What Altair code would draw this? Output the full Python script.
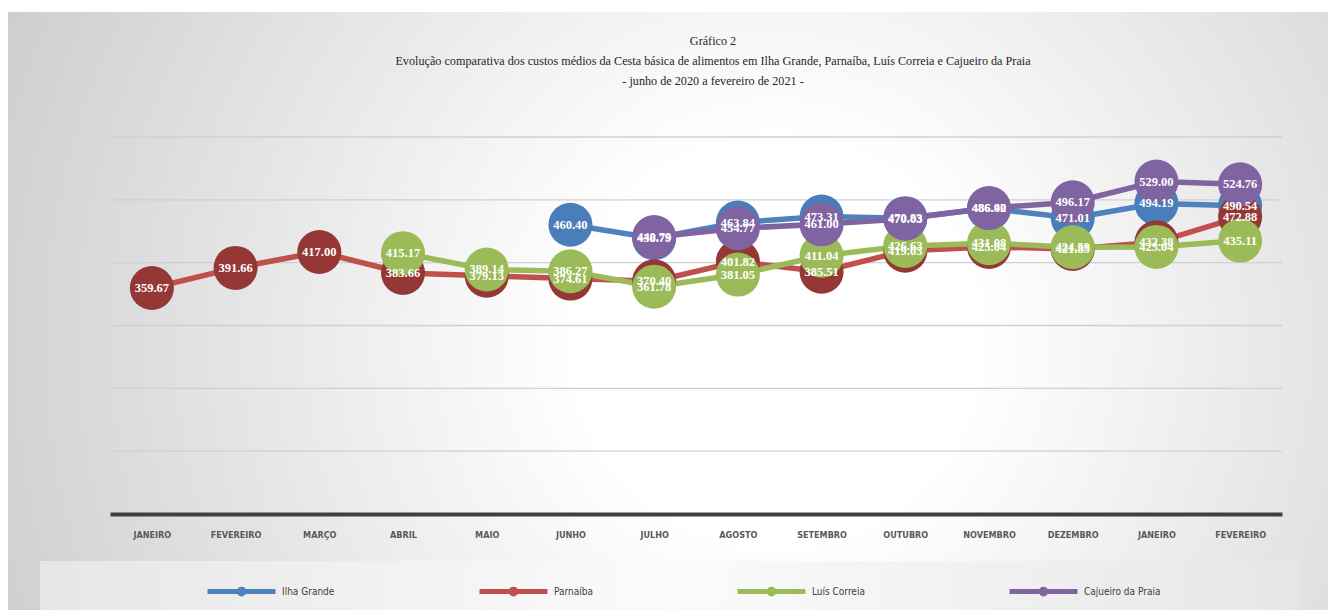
import altair as alt
import pandas as pd

months = ["JANEIRO", "FEVEREIRO", "MARÇO", "ABRIL", "MAIO", "JUNHO", "JULHO",
          "AGOSTO", "SETEMBRO", "OUTUBRO", "NOVEMBRO", "DEZEMBRO", "JANEIRO", "FEVEREIRO"]
years = [2020] * 12 + [2021] * 2

series_names = ["Ilha Grande", "Parnaíba", "Luís Correia", "Cajueiro da Praia"]
ilha_grande = [None, None, None, None, None, 460.40, 438.79, 463.84, 473.31, 470.83, 486.40, 471.01, 494.19, 490.54]
parnaiba = [359.67, 391.66, 417.00, 383.66, 379.13, 374.61, 370.40, 401.82, 385.51, 419.03, 425.04, 421.85, 432.38, 472.88]
luis_correia = [None, None, None, 415.17, 389.14, 386.27, 361.78, 381.05, 411.04, 426.63, 431.08, 424.59, 425.04, 435.11]
cajueiro = [None, None, None, None, None, None, 440.79, 454.77, 461.00, 470.03, 486.92, 496.17, 529.00, 524.76]

grid_values = [0, 100, 200, 300, 400, 500, 600]

line_colors = ["#4F81BD", "#C0504D", "#9BBB59", "#8064A2"]
marker_colors = ["#4A7EBB", "#953735", "#9BBB59", "#8064A2"]

keys = [f"{m} {y}" for m, y in zip(months, years)]
rows = []
for name, vals in zip(series_names, [ilha_grande, parnaiba, luis_correia, cajueiro]):
    for k, v in zip(keys, vals):
        if v is not None:
            rows.append({"mes": k, "serie": name, "valor": v})
df = pd.DataFrame(rows)

W, H = 1172, 377
PAD_L, PAD_T = 102, 129
COND = "DejaVu Sans Condensed, Liberation Sans Narrow, sans-serif"

x_enc = alt.X("mes:N", sort=keys, scale=alt.Scale(type="point", padding=0.5),
              axis=alt.Axis(title=None, labelAngle=0, ticks=False, grid=False, zindex=1,
                            labelExpr="split(datum.label, ' ')[0]",
                            domainColor="#404040", domainWidth=4,
                            labelFont=COND, labelFontSize=9, labelFontWeight="bold",
                            labelColor="#595959", labelPadding=16))
yscale = alt.Scale(domain=[0, 600], nice=False, zero=True)
y_enc = alt.Y("valor:Q", scale=yscale, axis=None)

bg_fill = {"gradient": "radial", "x1": 0.58, "y1": 0.52, "r1": 0, "x2": 0.58, "y2": 0.52, "r2": 0.75,
           "stops": [{"offset": 0, "color": "#ffffff"}, {"offset": 0.2, "color": "#ffffff"},
                     {"offset": 1, "color": "#c2c2c2"}]}
leg_fill = {"gradient": "radial", "x1": 0.5, "y1": 0.5, "r1": 0, "x2": 0.5, "y2": 0.5, "r2": 0.7,
            "stops": [{"offset": 0, "color": "#fbfbfb"}, {"offset": 1, "color": "#dedede"}]}

base_one = alt.Chart(pd.DataFrame({"a": [0]}))
bg = base_one.mark_rect(fill=bg_fill, clip=False).encode(
    x=alt.value(-PAD_L), x2=alt.value(1222), y=alt.value(-125), y2=alt.value(480))
legbox = base_one.mark_rect(fill=leg_fill, clip=False).encode(
    x=alt.value(-70), x2=alt.value(1190), y=alt.value(424), y2=alt.value(480))

grid = alt.Chart(pd.DataFrame({"v": grid_values})).mark_rule(color="#D0D0D0", strokeWidth=1.3).encode(
    y=alt.Y("v:Q", scale=yscale, axis=None), x=alt.value(0), x2=alt.value(W))

base = alt.Chart(df)
lines = base.mark_line(strokeWidth=5.5).encode(
    x=x_enc, y=y_enc,
    color=alt.Color("serie:N", sort=series_names,
                    scale=alt.Scale(domain=series_names, range=line_colors),
                    legend=alt.Legend(title=None, orient="none", direction="horizontal",
                                      legendX=95, legendY=418, columns=4, columnPadding=134,
                                      symbolType="M-1,0 L1,0 M0.07,0 A0.07,0.07 0 1,1 -0.07,0 A0.07,0.07 0 1,1 0.07,0",
                                      symbolSize=4624, symbolStrokeWidth=5, labelOffset=4,
                                      labelFont=COND, labelFontSize=10,
                                      labelColor="#404040", padding=0)),
    detail="serie:N")
points = base.mark_point(filled=True, opacity=1, size=1936, shape="circle").encode(
    x=x_enc, y=y_enc,
    fill=alt.Fill("serie:N", scale=alt.Scale(domain=series_names, range=marker_colors), legend=None))
labels = base.mark_text(color="white", font="Liberation Serif", fontWeight="bold", fontSize=12.5,
                        align="center", baseline="middle").encode(
    x=x_enc, y=y_enc, text=alt.Text("valor:Q", format=".2f"))

chart = alt.layer(bg, legbox, grid, lines, points, labels).properties(
    width=W, height=H,
    padding={"left": PAD_L, "top": PAD_T, "right": 46, "bottom": 96},
    autosize=alt.AutoSizeParams(type="none"),
    background="white",
    title=alt.TitleParams(
        text=["Gráfico 2",
              "Evolução comparativa dos custos médios da Cesta básica de alimentos em Ilha Grande, Parnaíba, Luís Correia e Cajueiro da Praia",
              "- junho de 2020 a fevereiro de 2021 -"],
        anchor="middle", dx=17, dy=75, offset=0, fontSize=12.2, fontWeight="normal", lineHeight=20,
        font="Liberation Serif", color="#262626", zindex=1)
).configure_view(stroke=None)

chart.save("out.html", embed_options={"renderer": "svg", "actions": False})
